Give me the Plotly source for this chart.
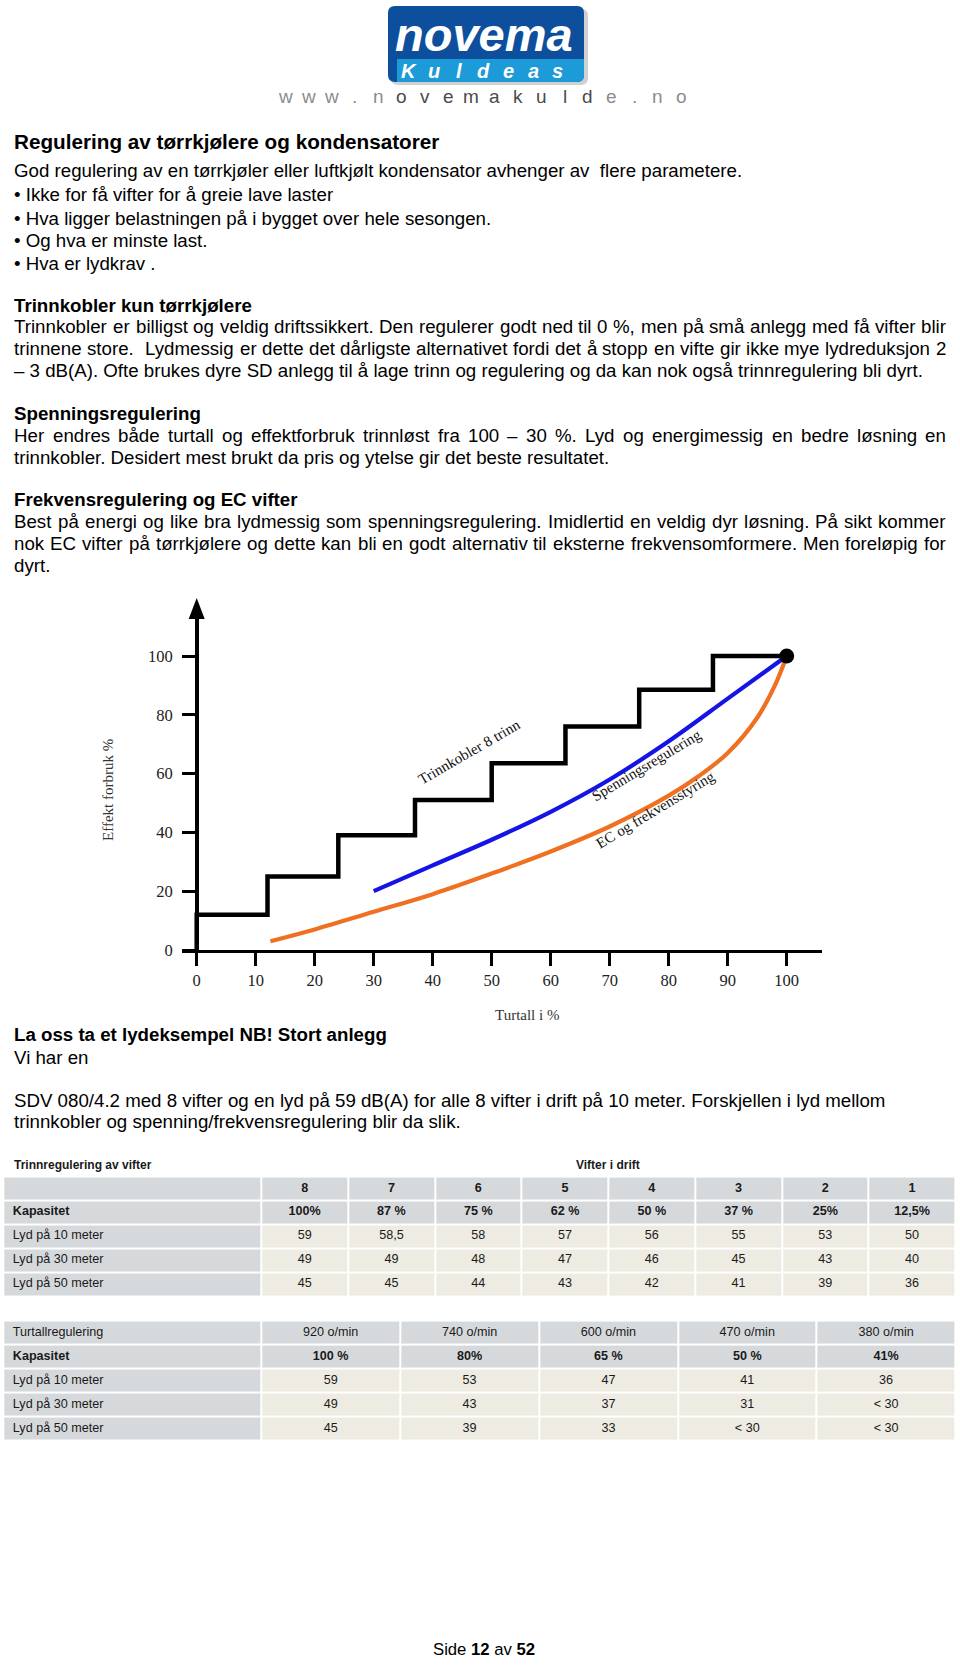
import plotly.graph_objects as go

# ---------------- data ----------------
turtall_ticks = [0, 10, 20, 30, 40, 50, 60, 70, 80, 90, 100]
effekt_ticks = [0, 20, 40, 60, 80, 100]

trinn_x = [0, 0, 12, 24, 37, 50, 62.5, 75, 87.5, 100]
trinn_y = [0, 12, 25, 39, 51, 63.5, 76, 88.5, 100, 100]

spenning_x = [30, 40, 50, 60, 70, 80, 90, 100]
spenning_y = [20, 28.8, 37.5, 47, 58, 71, 85.5, 100]

ec_x = [12.5, 20, 30, 40, 50, 60, 70, 80, 85, 90, 95, 98, 100]
ec_y = [3, 7, 13, 19, 26, 33.5, 42, 52.5, 59, 67, 79, 90, 100]

vifter = ["8", "7", "6", "5", "4", "3", "2", "1"]
kap1 = ["100%", "87 %", "75 %", "62 %", "50 %", "37 %", "25%", "12,5%"]
lyd10_1 = ["59", "58,5", "58", "57", "56", "55", "53", "50"]
lyd30_1 = ["49", "49", "48", "47", "46", "45", "43", "40"]
lyd50_1 = ["45", "45", "44", "43", "42", "41", "39", "36"]

rpm = ["920 o/min", "740 o/min", "600 o/min", "470 o/min", "380 o/min"]
kap2 = ["100 %", "80%", "65 %", "50 %", "41%"]
lyd10_2 = ["59", "53", "47", "41", "36"]
lyd30_2 = ["49", "43", "37", "31", "< 30"]
lyd50_2 = ["45", "39", "33", "< 30", "< 30"]

row_labels = ["Kapasitet", "Lyd på 10 meter", "Lyd på 30 meter", "Lyd på 50 meter"]

# ---------------- helpers ----------------
W_PX, H_PX = 960, 1667
VSCALE = 1 / 0.994   # small vertical correction for the page capture
def px(x):
    return x / W_PX
def py(y):
    return 1 - (y * VSCALE) / H_PX

BODY = "Liberation Sans, Arial, Helvetica, sans-serif"
SERIF = "Liberation Serif, Times New Roman, serif"

AW = {' ': 278, '!': 278, '%': 889, '(': 333, ')': 333, ',': 278, '-': 333, '.': 278, '/': 278,
      ':': 278, ';': 278, '?': 556,
      'A': 667, 'B': 667, 'C': 722, 'D': 722, 'E': 667, 'F': 611, 'G': 778, 'H': 722, 'I': 278,
      'J': 500, 'K': 667, 'L': 556, 'M': 833, 'N': 722, 'O': 778, 'P': 667, 'Q': 778, 'R': 722,
      'S': 667, 'T': 611, 'U': 722, 'V': 667, 'W': 944, 'X': 667, 'Y': 667, 'Z': 611,
      'a': 556, 'b': 556, 'c': 500, 'd': 556, 'e': 556, 'f': 278, 'g': 556, 'h': 556, 'i': 222,
      'j': 222, 'k': 500, 'l': 222, 'm': 833, 'n': 556, 'o': 556, 'p': 556, 'q': 556, 'r': 333,
      's': 500, 't': 278, 'u': 556, 'v': 500, 'w': 722, 'x': 500, 'y': 500, 'z': 500,
      'å': 556, 'ø': 611, 'æ': 889, '–': 556, '•': 350}
for d in "0123456789":
    AW[d] = 556

def tw(s, size):
    return sum(AW.get(c, 556) for c in s) * size / 1000.0

annotations = []
shapes = []

def txt(x, y, text, size=18.7, color="#000", family=BODY, xanchor="left", bold=False,
        italic=False, angle=0, xref="paper", yref="paper"):
    f = dict(family=family, size=size, color=color)
    if bold:
        f["weight"] = "bold"
    if italic:
        f["style"] = "italic"
    annotations.append(dict(
        x=px(x) if xref == "paper" else x, y=py(y) if yref == "paper" else y,
        xref=xref, yref=yref, text=text, showarrow=False, xanchor=xanchor,
        yanchor="middle", font=f, textangle=angle, borderpad=0))

LEFT, RIGHT = 13.3, 945.0
FS = 18.7

def line(y, text, **kw):
    txt(LEFT, y, text, **kw)

def justified(y, text):
    words = text.split(" ")
    widths = [tw(w, FS) for w in words]
    gap = (RIGHT - LEFT - sum(widths)) / (len(words) - 1)
    x = LEFT
    for w, wd in zip(words, widths):
        if w:
            txt(x, y, w)
        x += wd + gap

# ---------------- logo ----------------
def rrect_path(x0, y0, x1, y1, r, tl=True, tr=True, br=True, bl=True):
    def P(x, y):
        return f"{px(x):.5f},{py(y):.5f}"
    p = "M " + P(x0 + (r if tl else 0), y0)
    p += " L " + P(x1 - (r if tr else 0), y0)
    if tr:
        p += " Q " + P(x1, y0) + " " + P(x1, y0 + r)
    p += " L " + P(x1, y1 - (r if br else 0))
    if br:
        p += " Q " + P(x1, y1) + " " + P(x1 - r, y1)
    p += " L " + P(x0 + (r if bl else 0), y1)
    if bl:
        p += " Q " + P(x0, y1) + " " + P(x0, y1 - r)
    p += " L " + P(x0, y0 + (r if tl else 0))
    if tl:
        p += " Q " + P(x0, y0) + " " + P(x0 + r, y0)
    return p + " Z"

shapes.append(dict(type="path", path=rrect_path(391, 9, 588, 85, 7), xref="paper", yref="paper",
                   fillcolor="rgba(120,120,120,0.35)", line=dict(width=0), layer="above"))
shapes.append(dict(type="path", path=rrect_path(388, 6, 584, 82, 7), xref="paper", yref="paper",
                   fillcolor="#0d4f9c", line=dict(width=0), layer="above"))
shapes.append(dict(type="path", path=rrect_path(397, 59, 584, 82, 7, tl=False, tr=False, bl=False),
                   xref="paper", yref="paper", fillcolor="#1d9ad8", line=dict(width=0), layer="above"))
txt(484, 34, "novema", size=47, color="#ffffff", xanchor="center", bold=True, italic=True)
for i, ch in enumerate("Kuldeas"):
    txt(409 + i * 24.8, 70.5, ch, size=20, color="#ffffff", xanchor="center", bold=True, italic=True)
www = "www.novemakulde.no"
for i, ch in enumerate(www):
    col = "#4a4a4a" if 5 <= i <= 13 else "#8c8c8c"
    txt(285 + i * 23.3, 96, ch, size=19, color=col, xanchor="center")

# ---------------- body text ----------------
txt(LEFT, 141.5, "Regulering av tørrkjølere og kondensatorer", size=20.7, bold=True)
line(170.5, "God regulering av en tørrkjøler eller luftkjølt kondensator avhenger av  flere parametere.")
line(194.5, "• Ikke for få vifter for å greie lave laster")
line(218, "• Hva ligger belastningen på i bygget over hele sesongen.")
line(240.5, "• Og hva er minste last.")
line(263.8, "• Hva er lydkrav .")

line(305.5, "Trinnkobler kun tørrkjølere", bold=True)
justified(326.7, "Trinnkobler er billigst og veldig driftssikkert. Den regulerer godt ned til 0 %, men på små anlegg med få vifter blir")
justified(348.3, "trinnene store.  Lydmessig er dette det dårligste alternativet fordi det å stopp en vifte gir ikke mye lydreduksjon 2")
line(370, "– 3 dB(A). Ofte brukes dyre SD anlegg til å lage trinn og regulering og da kan nok også trinnregulering bli dyrt.")

line(413, "Spenningsregulering", bold=True)
justified(435, "Her endres både turtall og effektforbruk trinnløst fra 100 – 30 %. Lyd og energimessig en bedre løsning en")
line(457, "trinnkobler. Desidert mest brukt da pris og ytelse gir det beste resultatet.")

line(499.5, "Frekvensregulering og EC vifter", bold=True)
justified(521.5, "Best på energi og like bra lydmessig som spenningsregulering. Imidlertid en veldig dyr løsning. På sikt kommer")
justified(543, "nok EC vifter på tørrkjølere og dette kan bli en godt alternativ til eksterne frekvensomformere. Men foreløpig for")
line(565, "dyrt.")

line(1034.5, "La oss ta et lydeksempel NB! Stort anlegg", bold=True)
line(1057.5, "Vi har en")
line(1100.5, "SDV 080/4.2 med 8 vifter og en lyd på 59 dB(A) for alle 8 vifter i drift på 10 meter. Forskjellen i lyd mellom")
line(1121.5, "trinnkobler og spenning/frekvensregulering blir da slik.")

txt(484, 1649, "Side <b>12</b> av <b>52</b>", size=16.7, xanchor="center")

# ---------------- chart ----------------
X0PX, XSC = 196.7, 5.9      # px of x=0, px per unit
Y0PX, YSC = 950.0, 2.94     # px of y=0, px per unit
xr = [-2.5, 106]
yr = [0, (Y0PX - 611) / YSC]
xdom = [px(X0PX + xr[0] * XSC), px(X0PX + xr[1] * XSC)]
ydom = [py(Y0PX), py(611)]

fig = go.Figure()
fig.add_trace(go.Scatter(x=ec_x, y=ec_y, mode="lines", line=dict(color="#f07022", width=4.2, shape="spline"),
                         showlegend=False, hoverinfo="skip"))
fig.add_trace(go.Scatter(x=spenning_x, y=spenning_y, mode="lines",
                         line=dict(color="#1414e6", width=4.2, shape="spline"),
                         showlegend=False, hoverinfo="skip"))
fig.add_trace(go.Scatter(x=trinn_x, y=trinn_y, mode="lines", line=dict(color="#000", width=4.5, shape="hv"),
                         showlegend=False, hoverinfo="skip"))
fig.add_trace(go.Scatter(x=[trinn_x[-1]], y=[trinn_y[-1]], mode="markers",
                         marker=dict(color="#000", size=15), cliponaxis=False,
                         showlegend=False, hoverinfo="skip"))

ax_px = X0PX
shapes.append(dict(type="path", xref="paper", yref="paper",
                   path=f"M {px(ax_px):.5f},{py(598):.5f} L {px(ax_px - 8):.5f},{py(619):.5f} "
                        f"L {px(ax_px + 8):.5f},{py(619):.5f} Z",
                   fillcolor="#000", line=dict(width=0)))

txt(46.2, 67.3, "Trinnkobler 8 trinn", size=15, family=SERIF, color="#111", xanchor="center",
    angle=-30, xref="x", yref="y")
txt(76.3, 63.0, "Spenningsregulering", size=15, family=SERIF, color="#111", xanchor="center",
    angle=-31, xref="x", yref="y")
txt(77.7, 47.5, "EC og frekvensstyring", size=15, family=SERIF, color="#111", xanchor="center",
    angle=-31, xref="x", yref="y")
txt(108, 790, "Effekt forbruk %", size=15, family=SERIF, color="#333", xanchor="center", angle=-90)
txt(526.7, 1015, "Turtall i %", size=15, family=SERIF, color="#333", xanchor="center")

# ---------------- tables (heatmap cells + text) ----------------
GRAY = "#d6d9db"
BEIGE = "#eeebe2"
TXT = "#1a1a1a"
TFS = 12.6

txt(12.7, 1165, "Trinnregulering av vifter", size=12.0, color=TXT, bold=True)
txt(608, 1165, "Vifter i drift", size=12.0, color=TXT, bold=True, xanchor="center")

def b(s):
    return "<b>" + s + "</b>"

table1 = [[""] + [b(v) for v in vifter],
          [b(row_labels[0])] + [b(v) for v in kap1],
          [row_labels[1]] + lyd10_1,
          [row_labels[2]] + lyd30_1,
          [row_labels[3]] + lyd50_1]
table2 = [["Turtallregulering"] + rpm,
          [b(row_labels[0])] + [b(v) for v in kap2],
          [row_labels[1]] + lyd10_2,
          [row_labels[2]] + lyd30_2,
          [row_labels[3]] + lyd50_2]

def add_table(rows, widths, xa, ya, top_px, bottom_px):
    ncol = len(rows[0])
    nrow = len(rows)
    edges = [0]
    for w in widths:
        edges.append(edges[-1] + w)
    z = [[0 if (i < 2 or j == 0) else 1 for j in range(ncol)] for i in range(nrow)]
    fig.add_trace(go.Heatmap(x=edges, y=list(range(nrow + 1)), z=z, xaxis=xa, yaxis=ya,
                             colorscale=[[0, GRAY], [1, BEIGE]], zmin=0, zmax=1, showscale=False,
                             xgap=2, ygap=2, hoverinfo="skip"))
    tx, ty, tt, tp = [], [], [], []
    for i, r in enumerate(rows):
        for j, s in enumerate(r):
            if j == 0:
                tx.append(edges[0] + 9.5)
                tp.append("middle right")
            else:
                tx.append((edges[j] + edges[j + 1]) / 2)
                tp.append("middle center")
            ty.append(i + 0.5)
            tt.append(s)
    fig.add_trace(go.Scatter(x=tx, y=ty, text=tt, mode="text", textposition=tp, xaxis=xa, yaxis=ya,
                             textfont=dict(family=BODY, size=TFS, color=TXT), cliponaxis=False,
                             showlegend=False, hoverinfo="skip"))
    return dict(domain=[px(3.3), px(955.5)], range=[0, edges[-1]], visible=False, fixedrange=True), \
           dict(domain=[py(bottom_px), py(top_px)], range=[nrow, 0], visible=False, fixedrange=True)

w1 = [258] + [(952.2 - 258) / len(vifter)] * len(vifter)
w2 = [258] + [(952.2 - 258) / len(rpm)] * len(rpm)
xa2, ya2 = add_table(table1, w1, "x2", "y2", 1176.5, 1296)
xa3, ya3 = add_table(table2, w2, "x3", "y3", 1320.5, 1440.5)
xa2["anchor"] = "y2"; ya2["anchor"] = "x2"
xa3["anchor"] = "y3"; ya3["anchor"] = "x3"

fig.update_layout(
    width=W_PX, height=H_PX, margin=dict(l=0, r=0, t=0, b=0),
    paper_bgcolor="white", plot_bgcolor="white",
    font=dict(family=BODY, color="#000"),
    showlegend=False,
    xaxis=dict(domain=xdom, range=xr, showgrid=False, zeroline=False, showline=True,
               linecolor="#000", linewidth=3, ticks="outside", ticklen=13, tickwidth=3,
               tickcolor="#000", tickvals=turtall_ticks, ticktext=[str(t) for t in turtall_ticks],
               tickfont=dict(family=SERIF, size=16.5, color="#222"), fixedrange=True),
    yaxis=dict(domain=ydom, range=yr, anchor="free", position=px(ax_px), showgrid=False,
               zeroline=False, showline=True, linecolor="#000", linewidth=3.5, ticks="outside",
               ticklen=13, tickwidth=3, tickcolor="#000", tickvals=effekt_ticks,
               ticktext=[str(t) for t in effekt_ticks], ticklabelstandoff=6,
               tickfont=dict(family=SERIF, size=16.5, color="#222"), fixedrange=True),
    xaxis2=xa2, yaxis2=ya2, xaxis3=xa3, yaxis3=ya3,
    annotations=annotations,
    shapes=shapes,
)

css_fix = (
    "var s=document.createElement('style');"
    "s.innerHTML='html,body{margin:0;padding:0;width:960px;height:1667px;overflow:hidden;}';"
    "document.head.appendChild(s);"
)
fig.write_html("out.html", config={"displayModeBar": False}, post_script=css_fix)
